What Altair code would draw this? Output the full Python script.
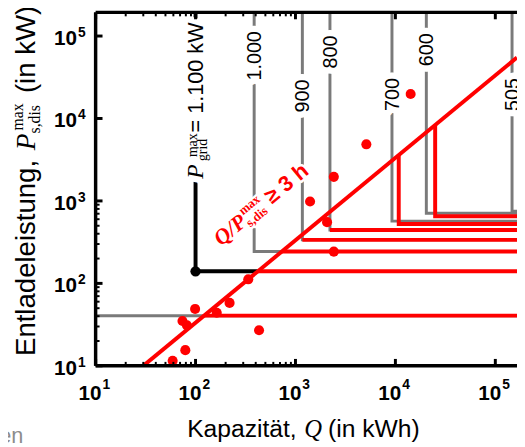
import altair as alt
import pandas as pd

# ---------------- data ----------------
# measured storage systems: capacity Q (kWh) and discharge power P (kW)
pts_Q = [14200, 5120, 2420, 1400, 2070, 2420, 337, 219, 163, 99, 74, 82, 432, 79, 59]
pts_P = [19800, 4860, 1960, 985, 553, 243, 112, 58, 44, 49, 35, 31, 27, 15.5, 11.5]

# line Q / P = 3 h
diag_Q = [30, 164800]
diag_P = [10, 54930]

# grid-limit scenarios drawn in gray: vertical at Q, horizontal at P
grid_labels = ["1.000", "900", "800", "700", "600", "505"]
grid_Q = [386, 1172, 2213, 9240, 20400, 147000]
grid_P = [243, 337, 445, 569, 710, 750]
label_P = [57500, 18700, 64000, 19500, 68000, 19500]

# P_grid^max = 1.100 kW path (black) and its corner point
black_Q = [100, 100, 420]
black_P = [193600, 140, 140]
corner_Q = [100]
corner_P = [140]
black_label_P = 1858

# low gray level
low_P = 40.6

# red (feasible) segments
red_start_Q = [420, 729, 1172, 2213, 122]
red_level_P = [140, 243, 337, 445, 40.6]
red_v_Q = [10800, 25000]
red_v_top = [3600, 8330]
red_v_P = [524, 653]

# axis ticks
major = [10, 100, 1000, 10000, 100000]
exps = ["1", "2", "3", "4", "5"]
minor = [20, 30, 40, 50, 60, 70, 80, 90, 200, 300, 400, 500, 600, 700, 800, 900]

# ---------------- layout ----------------
W, H = 428, 359
QMIN, QMAX = 10, 164800
PMIN, PMAX = 10, 193600
xs = alt.Scale(type="log", domain=[QMIN, QMAX], nice=False)
ys = alt.Scale(type="log", domain=[PMIN, PMAX], nice=False)
X = alt.X("Q:Q", scale=xs, axis=None)
Y = alt.Y("P:Q", scale=ys, axis=None)
RED = "#ff0000"
GRAY = "#7a7a7a"
SANS = "Liberation Sans"
SERIF = "Liberation Serif"

# gray paths
rows = []
for i, (q, p) in enumerate(zip(grid_Q, grid_P)):
    rows += [(f"g{i}", 0, q, PMAX), (f"g{i}", 1, q, p), (f"g{i}", 2, QMAX, p)]
rows += [("low", 0, QMIN, low_P), ("low", 1, QMAX, low_P)]
gray_df = pd.DataFrame(rows, columns=["id", "o", "Q", "P"])

rows = []
for j, (q, p) in enumerate(zip(red_start_Q, red_level_P)):
    rows += [(f"h{j}", 0, q, p), (f"h{j}", 1, QMAX, p)]
for k, (q, t, p) in enumerate(zip(red_v_Q, red_v_top, red_v_P)):
    rows += [(f"v{k}", 0, q, t), (f"v{k}", 1, q, p), (f"v{k}", 2, QMAX, p)]
red_df = pd.DataFrame(rows, columns=["id", "o", "Q", "P"])

black_df = pd.DataFrame({"Q": black_Q, "P": black_P, "o": [0, 1, 2]})
diag_df = pd.DataFrame({"Q": diag_Q, "P": diag_P})
pts_df = pd.DataFrame({"Q": pts_Q, "P": pts_P})
corner_df = pd.DataFrame({"Q": corner_Q, "P": corner_P})

layers = []
layers.append(alt.Chart(gray_df).mark_line(color=GRAY, strokeWidth=3, clip=True)
              .encode(x=X, y=Y, detail="id:N", order="o:Q"))
layers.append(alt.Chart(black_df).mark_line(color="black", strokeWidth=4, clip=True)
              .encode(x=X, y=Y, order="o:Q"))
layers.append(alt.Chart(red_df).mark_line(color=RED, strokeWidth=4, clip=True)
              .encode(x=X, y=Y, detail="id:N", order="o:Q"))
layers.append(alt.Chart(diag_df).mark_line(color=RED, strokeWidth=4, clip=True)
              .encode(x=X, y=Y))
layers.append(alt.Chart(pts_df).mark_circle(color=RED, opacity=1, size=105)
              .encode(x=X, y=Y))
layers.append(alt.Chart(corner_df).mark_circle(color="black", opacity=1, size=110)
              .encode(x=X, y=Y))

halos, texts = [], []


def piece(text, size, dx=0, dy=0, angle=0, font=SANS, style="normal", weight="normal",
          color="black", align="left", halo=0, Q=None, P=None, px=None, py=None):
    df = pd.DataFrame({"t": [text], "Q": [Q], "P": [P]})
    if Q is not None:
        enc = dict(x=X, y=Y)
    else:
        enc = dict(x=alt.value(px), y=alt.value(py))
    kw = dict(font=font, fontSize=size, fontStyle=style, fontWeight=weight, align=align,
              baseline="alphabetic", dx=dx, dy=dy, angle=angle)
    if halo:
        halos.append(alt.Chart(df).mark_text(color="white", stroke="white", strokeWidth=halo,
                                             strokeJoin="round", **kw).encode(text="t:N", **enc))
    texts.append(alt.Chart(df).mark_text(color=color, **kw).encode(text="t:N", **enc))


# labels on gray lines
for lab, q, p in zip(grid_labels, grid_Q, label_P):
    piece(lab, 20, dx=0, dy=7, angle=270, align="center", halo=13, Q=q, P=p)

# P_grid^max = 1.100 kW
bq, bp = corner_Q[0], black_label_P
piece("P", 24, dx=0, dy=8, angle=270, font=SERIF, style="italic", halo=13, Q=bq, P=bp)
piece("max", 14, dx=22, dy=1, angle=270, font=SERIF, halo=13, Q=bq, P=bp)
piece("grid", 14, dx=18, dy=12, angle=270, font=SERIF, halo=13, Q=bq, P=bp)
piece("= 1.100 kW", 22, dx=47, dy=8, angle=270, halo=13, Q=bq, P=bp)

# Q / P_s,dis^max >= 3 h  (along the 3 h line)
dq, dp, ang = 180, 281, 320.5
piece("Q/P", 22, dx=0, dy=0, angle=ang, font=SERIF, style="italic", weight="bold", color=RED, halo=5, Q=dq, P=dp)
piece("max", 13, dx=37, dy=-10, angle=ang, font=SERIF, weight="bold", color=RED, halo=5, Q=dq, P=dp)
piece("s,dis", 13, dx=35, dy=4, angle=ang, font=SERIF, weight="bold", color=RED, halo=5, Q=dq, P=dp)
piece("\u2265 3 h", 22, dx=67, dy=0, angle=ang, weight="bold", color=RED, halo=5, Q=dq, P=dp)

# axis titles
piece("Entladeleistung,", 28, dx=0, dy=0, angle=270, px=-62, py=349)
piece("P", 28, dx=209, dy=0, angle=270, font=SERIF, style="italic", px=-62, py=349)
piece("max", 16, dx=229, dy=-12, angle=270, font=SERIF, px=-62, py=349)
piece("s,dis", 16, dx=226, dy=5, angle=270, font=SERIF, px=-62, py=349)
piece("(in kW)", 28, dx=267, dy=0, angle=270, px=-62, py=349)

piece("Kapazit\u00e4t,", 25, px=93, py=431)
piece("Q", 25, dx=119, font=SERIF, style="italic", px=93, py=431)
piece("(in kWh)", 25, dx=143, px=93, py=431)

piece("en", 22, color="#8c8c8c", px=-98, py=437)

# tick labels
for m, e in zip(major, exps):
    piece("10", 21, dx=6, weight="bold", align="right", Q=m, P=PMIN, dy=35)
    piece(e, 14, dx=7, weight="bold", Q=m, P=PMIN, dy=24)
    piece("10", 21, dx=-19, dy=9, weight="bold", align="right", Q=QMIN, P=m)
    piece(e, 14, dx=-18, dy=1, weight="bold", Q=QMIN, P=m)

# axis lines
axl = []
axl.append(alt.Chart(pd.DataFrame({"a": [0]})).mark_rule(color="black", strokeWidth=3.5)
           .encode(x=alt.value(0), y=alt.value(0), y2=alt.value(H)))
axl.append(alt.Chart(pd.DataFrame({"a": [0]})).mark_rule(color="black", strokeWidth=3.5)
           .encode(x=alt.value(0), x2=alt.value(W), y=alt.value(H)))
axl.append(alt.Chart(pd.DataFrame({"a": [0]})).mark_rule(color="black", strokeWidth=3.5)
           .encode(x=alt.value(0), x2=alt.value(W), y=alt.value(0)))

tick_major = pd.DataFrame({"Q": major, "P": major})
tick_minor = pd.DataFrame({"Q": minor, "P": minor})
for df, ln, sw in [(tick_major, 7, 3), (tick_minor, 4, 2)]:
    axl.append(alt.Chart(df).mark_rule(color="black", strokeWidth=sw)
               .encode(x=X, y=alt.value(H), y2=alt.value(H - ln)))
    axl.append(alt.Chart(df).mark_rule(color="black", strokeWidth=sw)
               .encode(x=X, y=alt.value(0), y2=alt.value(ln)))
    axl.append(alt.Chart(df).mark_rule(color="black", strokeWidth=sw)
               .encode(y=Y, x=alt.value(0), x2=alt.value(ln)))

chart = alt.layer(*layers, *halos, *texts, *axl).properties(
    width=W, height=H,
    padding={"left": 89, "top": 1, "right": 0, "bottom": 79},
    autosize=alt.AutoSizeParams(type="none"),
).configure_view(stroke=None)

chart.save("out.html", embed_options={"renderer": "svg", "actions": False})
